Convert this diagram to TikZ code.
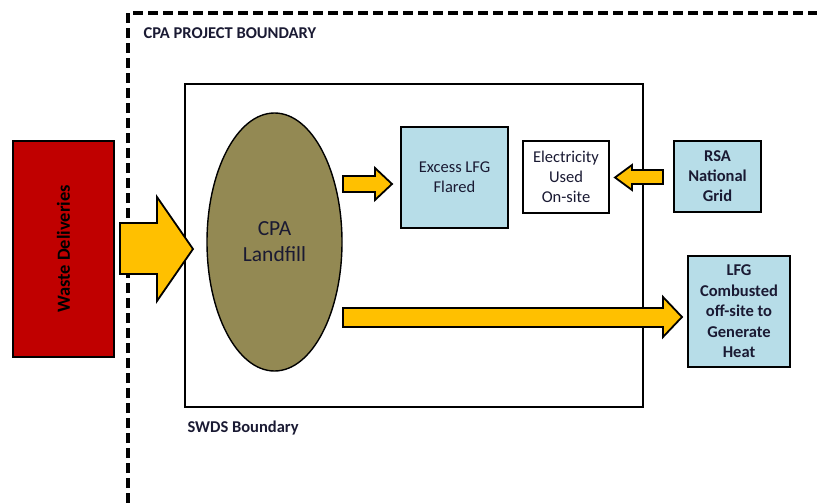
\documentclass[tikz,border=0pt]{standalone}
\usepackage{fontspec}
\setmainfont{Carlito}
\usetikzlibrary{shapes.geometric}
\definecolor{wastered}{HTML}{C00000}
\definecolor{arrowgold}{HTML}{FFC000}
\definecolor{landolive}{HTML}{938953}
\definecolor{paleblue}{HTML}{B7DDE8}
\definecolor{textnavy}{HTML}{1A1A33}
\begin{document}
\begin{tikzpicture}[x=1pt,y=-1pt,
  boxline/.style={draw=black,line width=1.8pt},
  infobox/.style={boxline,fill=paleblue,align=center,inner sep=0pt,text=textnavy},
  blockarrow/.style={draw=black,line width=1.8pt,fill=arrowgold,line join=miter},
  labeltext/.style={font=\bfseries\fontsize{16.5}{19}\selectfont,anchor=west,text=textnavy}]
\useasboundingbox (0,0) rectangle (817,503);

% project boundary (dashed)
\draw[line width=3.5pt,dash pattern=on 10pt off 5pt] (128,503) -- (128,13) -- (817,13);
\node[labeltext] (cpab) at (140,33) {CPA PROJECT BOUNDARY};

% SWDS boundary
\node[boxline,minimum width=458pt,minimum height=323pt,inner sep=0pt] (swds) at (414,245.5) {};
\node[labeltext] (swdsl) at (184,428) {SWDS Boundary};

% waste deliveries
\node[boxline,fill=wastered,minimum width=101pt,minimum height=216pt,inner sep=0pt] (waste) at (63.5,249) {};
\node[rotate=90,font=\bfseries\fontsize{18.5}{21}\selectfont] (wastel) at (waste.center) {Waste Deliveries};

% landfill
\node[ellipse,draw=black,line width=1.4pt,fill=landolive,minimum width=135pt,minimum height=258pt,inner sep=0pt,
      align=center,font=\fontsize{21.5}{26}\selectfont,text=textnavy] (landfill) at (274.5,242) {CPA\\Landfill};

% gas / electricity boxes
\node[infobox,minimum width=107pt,minimum height=101pt,font=\fontsize{16.5}{20}\selectfont] (flare) at (454.5,177.5) {Excess LFG\\Flared};
\node[boxline,fill=white,minimum width=86pt,minimum height=72pt,inner sep=0pt,align=center,
      font=\fontsize{16.5}{20}\selectfont,text=textnavy] (elec) at (566,177) {Electricity\\Used\\On-site};
\node[infobox,minimum width=87pt,minimum height=71pt,font=\bfseries\fontsize{16.5}{20}\selectfont] (grid) at (717.5,176.5) {RSA\\National\\Grid};
\node[infobox,minimum width=102pt,minimum height=111pt,font=\bfseries\fontsize{16.5}{20.5}\selectfont] (heat) at (739,311.5) {LFG\\Combusted\\off-site to\\Generate\\Heat};

% block arrows
\draw[blockarrow] (120,223) -- (157,223) -- (157,197) -- (193,249) -- (157,301) -- (157,274) -- (120,274) -- cycle;
\draw[blockarrow] (343,176) -- (375,176) -- (375,168) -- (392,184) -- (375,200) -- (375,192) -- (343,192) -- cycle;
\draw[blockarrow] (663,170) -- (632,170) -- (632,165) -- (615,177.5) -- (632,190) -- (632,184) -- (663,184) -- cycle;
\draw[blockarrow] (343,308) -- (663,308) -- (663,297) -- (682,317) -- (663,337) -- (663,327) -- (343,327) -- cycle;
\end{tikzpicture}
\end{document}
